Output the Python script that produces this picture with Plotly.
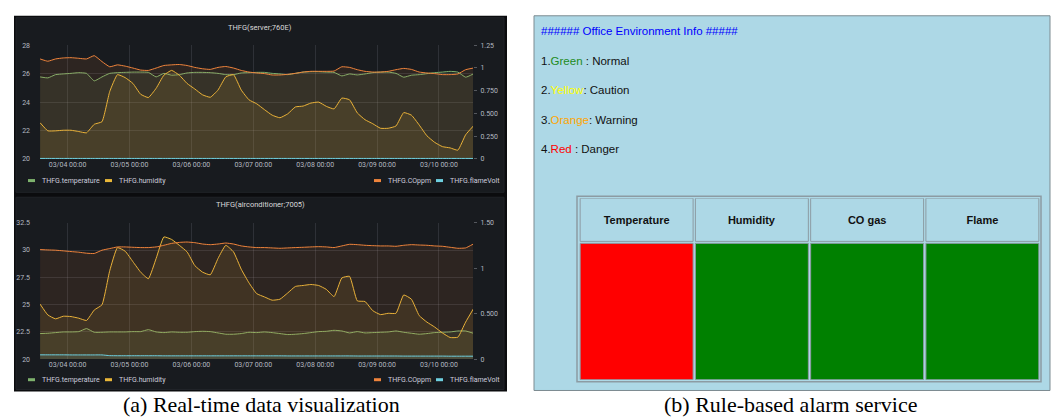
import plotly.graph_objects as go
import pandas as pd

W, H = 1054, 420

# ------------------------------------------------------------------ data
start_time = "2020-03-03 13:20"
sample_step = "3h"
x_tick_days = pd.date_range("2020-03-04", "2020-03-10", freq="D")
x_range = ["2020-03-03 13:18", "2020-03-10 13:12"]

chart_titles = ["THFG(server;760E)", "THFG(airconditioner;7005)"]
series_names = ["THFG.temperature", "THFG.humidity", "THFG.COppm", "THFG.flameVolt"]

# server (760E)
srv_temp = [25.77, 25.70, 25.93, 25.98, 26.02, 26.07, 26.02, 25.49, 25.77, 26.02,
            26.07, 26.09, 26.11, 26.11, 26.09, 25.77, 26.02, 25.89, 25.93, 26.05,
            26.09, 26.09, 26.07, 26.02, 25.93, 25.93, 26.05, 26.07, 26.09, 26.09,
            26.02, 25.98, 25.93, 26.02, 26.11, 26.14, 26.14, 26.11, 26.09, 25.84,
            25.98, 25.91, 25.98, 26.07, 26.11, 26.11, 26.02, 25.75, 25.89, 25.93,
            26.00, 26.07, 26.11, 26.16, 26.11, 25.75, 25.98]
srv_hum = [22.55, 21.98, 21.98, 22.02, 22.02, 21.93, 21.84, 22.44, 22.62, 24.74,
           25.93, 25.72, 25.31, 24.55, 24.32, 24.97, 25.89, 26.23, 25.89, 25.31,
           24.92, 24.51, 24.34, 24.85, 25.77, 25.93, 24.85, 24.16, 23.88, 23.47,
           23.08, 22.90, 23.17, 23.66, 23.72, 23.93, 24.00, 23.70, 23.52, 24.28,
           24.16, 23.24, 22.76, 22.48, 22.16, 22.16, 22.32, 23.26, 23.08, 22.39,
           21.63, 21.17, 20.87, 20.78, 20.62, 21.70, 22.32]
srv_co = [1.099, 1.074, 1.099, 1.110, 1.113, 1.106, 1.099, 1.135, 1.070, 1.013,
          1.034, 1.020, 0.999, 0.977, 0.973, 0.999, 1.027, 1.034, 1.038, 1.027,
          1.006, 0.991, 0.984, 1.006, 1.016, 0.999, 0.973, 0.955, 0.945, 0.938,
          0.923, 0.923, 0.930, 0.941, 0.955, 0.963, 0.963, 0.963, 0.966, 1.013,
          1.006, 0.981, 0.963, 0.955, 0.955, 0.963, 0.981, 0.995, 0.984, 0.955,
          0.945, 0.938, 0.927, 0.927, 0.934, 0.981, 0.999]
srv_flame = [0.006, 0.006, 0.006, 0.006, 0.006, 0.006, 0.006, 0.006, 0.006, 0.006,
             0.006, 0.006, 0.006, 0.006, 0.006, 0.006, 0.006, 0.006, 0.006, 0.006,
             0.006, 0.006, 0.006, 0.006, 0.006, 0.006, 0.006, 0.006, 0.006, 0.006,
             0.006, 0.006, 0.006, 0.006, 0.006, 0.006, 0.006, 0.006, 0.006, 0.006,
             0.006, 0.006, 0.006, 0.006, 0.006, 0.006, 0.006, 0.006, 0.006, 0.006,
             0.006, 0.006, 0.006, 0.006, 0.006, 0.006, 0.006]

# air conditioner (7005)
ac_temp = [22.34, 22.37, 22.43, 22.49, 22.49, 22.52, 22.80, 22.46, 22.46, 22.49,
           22.49, 22.49, 22.52, 22.52, 22.70, 22.49, 22.43, 22.49, 22.46, 22.46,
           22.52, 22.55, 22.52, 22.40, 22.28, 22.28, 22.34, 22.46, 22.43, 22.49,
           22.43, 22.34, 22.25, 22.28, 22.34, 22.43, 22.52, 22.55, 22.64, 22.58,
           22.40, 22.52, 22.40, 22.43, 22.46, 22.49, 22.58, 22.46, 22.37, 22.28,
           22.34, 22.43, 22.46, 22.49, 22.58, 22.58, 22.37]
ac_hum = [25.04, 24.05, 23.69, 23.93, 23.90, 23.75, 23.54, 24.50, 24.98, 28.10,
          30.22, 29.89, 28.93, 27.97, 27.37, 29.23, 31.20, 30.97, 30.43, 29.83,
          28.57, 27.97, 27.73, 29.23, 30.43, 29.83, 28.24, 26.99, 26.00, 25.70,
          25.40, 25.49, 26.06, 26.66, 26.75, 26.84, 26.75, 26.39, 25.73, 27.44,
          27.59, 25.34, 25.28, 24.44, 24.08, 24.20, 24.20, 25.88, 25.49, 23.99,
          23.39, 22.94, 22.40, 21.98, 22.01, 23.39, 24.60]
ac_co = [1.205, 1.201, 1.198, 1.191, 1.183, 1.176, 1.165, 1.162, 1.198, 1.216,
         1.234, 1.234, 1.230, 1.227, 1.227, 1.234, 1.252, 1.273, 1.284, 1.288,
         1.281, 1.266, 1.259, 1.266, 1.277, 1.266, 1.245, 1.234, 1.227, 1.227,
         1.223, 1.219, 1.223, 1.227, 1.230, 1.234, 1.237, 1.234, 1.227, 1.245,
         1.263, 1.259, 1.252, 1.248, 1.245, 1.245, 1.241, 1.252, 1.259, 1.255,
         1.252, 1.245, 1.241, 1.230, 1.219, 1.223, 1.266]
ac_flame = [0.047, 0.047, 0.047, 0.047, 0.046, 0.046, 0.046, 0.046, 0.046, 0.038,
            0.037, 0.037, 0.037, 0.037, 0.037, 0.037, 0.036, 0.036, 0.036, 0.036,
            0.036, 0.036, 0.036, 0.036, 0.036, 0.036, 0.036, 0.036, 0.036, 0.036,
            0.036, 0.036, 0.035, 0.035, 0.035, 0.035, 0.035, 0.035, 0.035, 0.035,
            0.035, 0.034, 0.034, 0.034, 0.034, 0.034, 0.034, 0.033, 0.033, 0.033,
            0.033, 0.033, 0.033, 0.032, 0.032, 0.032, 0.032]

left_ticks_srv = [20, 22, 24, 26, 28]
right_ticks_srv = [0, 0.25, 0.5, 0.75, 1, 1.25]
right_text_srv = ["0", "0.250", "0.500", "0.750", "1", "1.25"]
left_ticks_ac = [20, 22.5, 25, 27.5, 30, 32.5]
left_text_ac = ["20", "22.5", "25", "27.5", "30", "32.5"]
right_ticks_ac = [0, 0.5, 1, 1.5]
right_text_ac = ["0", "0.500", "1", "1.50"]

# alarm panel
info_title = "###### Office Environment Info #####"
level_prefix = ["1.", "2.", "3.", "4."]
level_words = ["Green", "Yellow", "Orange", "Red"]
level_meaning = [" : Normal", ": Caution", ": Warning", " : Danger"]
level_colors = ["#228B22", "#FFFF00", "#FFA500", "#FF0000"]
sensor_headers = ["Temperature", "Humidity", "CO gas", "Flame"]
sensor_status = ["Danger", "Normal", "Normal", "Normal"]
status_colors = {"Normal": "#008000", "Caution": "#FFFF00",
                 "Warning": "#FFA500", "Danger": "#FF0000"}

captions = ["(a) Real-time data visualization", "(b) Rule-based alarm service"]

# ------------------------------------------------------------------ style
C_TEMP, C_HUM, C_CO, C_FLAME = "#7EB26D", "#EAB839", "#EF843C", "#6ED0E0"
series_colors = [C_TEMP, C_HUM, C_CO, C_FLAME]
GRID = "rgba(204,204,220,0.13)"
TICK = "#b4b9c0"
FONT = "Roboto, Liberation Sans, sans-serif"


def px(x):
    return x / W


def py(y):
    return 1 - y / H


def rgba(hex_c, a):
    h = hex_c.lstrip("#")
    return "rgba(%d,%d,%d,%.2f)" % (int(h[0:2], 16), int(h[2:4], 16), int(h[4:6], 16), a)


times = pd.date_range(start_time, periods=len(srv_temp), freq=sample_step)

fig = go.Figure()

charts = [
    (("x", "y", "y2"), [srv_temp, srv_hum, srv_co, srv_flame]),
    (("x2", "y3", "y4"), [ac_temp, ac_hum, ac_co, ac_flame]),
]
for (xa, yl, yr), series in charts:
    for i, vals in enumerate(series):
        fig.add_trace(go.Scatter(
            x=times, y=vals, name=series_names[i], mode="lines",
            xaxis=xa, yaxis=(yl if i < 2 else yr),
            line=dict(color=series_colors[i], width=1, shape="spline", smoothing=0.4),
            fill="tozeroy", fillcolor=rgba(series_colors[i], 0.10),
            showlegend=False, hoverinfo="skip"))

# alarm table drawn as bars on its own axes
BODY_H = 1.0
HDR_H = 44 / 139
GAP = 2 / 139
fig.add_trace(go.Bar(
    x=sensor_headers, y=[BODY_H] * len(sensor_headers), xaxis="x3", yaxis="y5",
    marker=dict(color=[status_colors[s] for s in sensor_status],
                line=dict(color="#8c9ba3", width=1)),
    showlegend=False, hoverinfo="skip"))
fig.add_trace(go.Bar(
    x=sensor_headers, y=[HDR_H] * len(sensor_headers),
    base=[BODY_H + GAP] * len(sensor_headers), xaxis="x3", yaxis="y5",
    marker=dict(color="#ADD8E6", line=dict(color="#8c9ba3", width=1)),
    text=sensor_headers, texttemplate="<b>%{text}</b>", textposition="inside",
    insidetextanchor="middle", textangle=0,
    textfont=dict(family="Liberation Sans, Arial, sans-serif", size=11, color="#111111"),
    showlegend=False, hoverinfo="skip"))

xdom = [px(40), px(473)]
common_x = dict(type="date", range=x_range, tickvals=x_tick_days, tickformat="%m/%d %H:%M",
                showgrid=True, gridcolor=GRID, gridwidth=1, zeroline=False, showline=False,
                ticks="", tickfont=dict(family=FONT, size=7, color=TICK), fixedrange=True)
common_yl = dict(showgrid=True, gridcolor=GRID, gridwidth=1, zeroline=False, showline=False,
                 ticks="", tickfont=dict(family=FONT, size=7, color=TICK),
                 ticklabelstandoff=9)
common_yr = dict(showgrid=False, zeroline=False, showline=False, side="right",
                 ticks="outside", ticklen=3, tickcolor="#55585e",
                 tickfont=dict(family=FONT, size=7, color=TICK), ticklabelstandoff=2)

fig.update_layout(
    width=W, height=H, margin=dict(l=0, r=0, t=0, b=0),
    paper_bgcolor="white", plot_bgcolor="rgba(0,0,0,0)",
    showlegend=False, hovermode=False, barmode="overlay", bargap=0.02,
    xaxis=dict(domain=xdom, anchor="y", **common_x),
    yaxis=dict(domain=[py(158), py(42)], range=[20, 28], tickvals=left_ticks_srv,
               anchor="x", **common_yl),
    yaxis2=dict(overlaying="y", anchor="x", range=[0, 1.25], tickvals=right_ticks_srv,
                ticktext=right_text_srv, **common_yr),
    xaxis2=dict(domain=xdom, anchor="y3", **common_x),
    yaxis3=dict(domain=[py(362), py(223)], range=[20, 32.5], tickvals=left_ticks_ac,
                ticktext=left_text_ac, anchor="x2", **common_yl),
    yaxis4=dict(overlaying="y3", anchor="x2", range=[0, 1.5], tickvals=right_ticks_ac,
                ticktext=right_text_ac, **common_yr),
    xaxis3=dict(domain=[px(579), px(1040)], anchor="y5", type="category",
                range=[-0.5, len(sensor_headers) - 0.5], visible=False, fixedrange=True),
    yaxis5=dict(domain=[py(383), py(198)], anchor="x3",
                range=[0, BODY_H + GAP + HDR_H], visible=False, fixedrange=True),
)

shapes = []


def rect(x0, y0, x1, y1, fill, line_color=None, lw=0, layer="below"):
    shapes.append(dict(type="rect", xref="paper", yref="paper",
                       x0=px(x0), x1=px(x1), y0=py(y1), y1=py(y0),
                       fillcolor=fill, line=dict(color=line_color or fill, width=lw),
                       layer=layer))


# dashboard background and panels
rect(14, 12, 507, 395, "#0b0c0e")
rect(16, 14, 504, 192, "#181b1f", "#202328", 1)
rect(16, 197, 504, 393, "#181b1f", "#202328", 1)
# alarm page
rect(534, 12, 1050, 394, "#ADD8E6", "#7d8b91", 1)
rect(577, 196, 1041, 385, "rgba(0,0,0,0)", "#8c9ba3", 1.5)

annotations = []

# panel titles
for title, yy in zip(chart_titles, [24, 204]):
    annotations.append(dict(text=title, x=px(260), y=py(yy), xref="paper", yref="paper",
                            showarrow=False, xanchor="center", yanchor="middle",
                            font=dict(family=FONT, size=7.5, color="#d8d9da")))

# grafana style legends
legend_dash_x = [28, 105, 374, 436]
for yy in [180, 383]:
    for name, col, dx in zip(series_names, series_colors, legend_dash_x):
        shapes.append(dict(type="line", xref="paper", yref="paper",
                           x0=px(dx), x1=px(dx + 7), y0=py(yy), y1=py(yy),
                           line=dict(color=col, width=3), layer="above"))
        annotations.append(dict(text=name, x=px(dx + 12), y=py(yy), xref="paper",
                                yref="paper", showarrow=False, xanchor="left",
                                yanchor="middle",
                                font=dict(family=FONT, size=7, color="#ccccdc")))

# alarm panel text
INFO_FONT = "Liberation Sans, Arial, sans-serif"
annotations.append(dict(text=info_title, x=px(539), y=py(28), xref="paper", yref="paper",
                        showarrow=False, xanchor="left", yanchor="middle",
                        font=dict(family=INFO_FONT, size=11.5, color="#0000FF")))
for i in range(len(level_words)):
    txt = ('%s<span style="color:%s">%s</span>%s'
           % (level_prefix[i], level_colors[i], level_words[i], level_meaning[i]))
    annotations.append(dict(text=txt, x=px(539), y=py(58 + 30 * i), xref="paper",
                            yref="paper", showarrow=False, xanchor="left",
                            yanchor="middle",
                            font=dict(family=INFO_FONT, size=11.5, color="#111111")))

# captions
for cap, cx in zip(captions, [261, 791]):
    annotations.append(dict(text=cap, x=px(cx), y=py(408), xref="paper", yref="paper",
                            showarrow=False, xanchor="center", yanchor="middle",
                            font=dict(family="Liberation Serif, Times New Roman, serif",
                                      size=22, color="#000000")))

fig.update_layout(shapes=shapes, annotations=annotations)
fig.write_html("out.html", config={"displayModeBar": False, "staticPlot": True},
               post_script="document.body.style.margin='0';document.body.style.padding='0';")
